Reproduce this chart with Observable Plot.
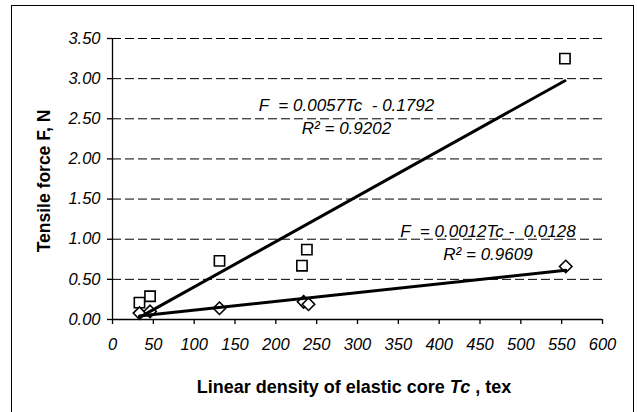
<!DOCTYPE html>
<html>
<head>
<meta charset="utf-8">
<script src="https://cdn.jsdelivr.net/npm/d3@7"></script>
<script src="https://cdn.jsdelivr.net/npm/@observablehq/plot@0.6"></script>
<style>
  html, body { margin: 0; padding: 0; background: #fff; overflow: hidden; }
  #wrap { position: relative; width: 637px; height: 412px; overflow: hidden; }
  #frame { position: absolute; left: 11px; top: 5px; width: 623px; height: 520px;
           border: 1.6px solid #000; box-sizing: border-box; pointer-events: none; }
  svg text { white-space: pre; }
</style>
</head>
<body>
<div id="wrap"><div id="frame"></div></div>
<script>
// Series 1 (squares)
const tcSquares = [33, 46, 131, 232, 238, 554];
const forceSquares = [0.21, 0.29, 0.73, 0.67, 0.87, 3.25];
// Series 2 (diamonds)
const tcDiamonds = [33, 46, 131, 234, 240, 555];
const forceDiamonds = [0.08, 0.10, 0.14, 0.22, 0.19, 0.66];
// Tick values
const xTicks = [0, 50, 100, 150, 200, 250, 300, 350, 400, 450, 500, 550, 600];
const yTicks = [0, 0.5, 1, 1.5, 2, 2.5, 3, 3.5];
// Trendline equation labels
const eqSquares = ["F  = 0.0057Tc  - 0.1792", "R² = 0.9202"];
const eqDiamonds = ["F  = 0.0012Tc -  0.0128", "R² = 0.9609"];
const yTitle = "Tensile force F, N";
const xTitleParts = ["Linear density of elastic core ", "Tc", " , tex"];

const squares = tcSquares.map((x, i) => ({x, y: forceSquares[i]}));
const diamonds = tcDiamonds.map((x, i) => ({x, y: forceDiamonds[i]}));

const FONT = "'Liberation Sans', Arial, sans-serif";
const eqStyle = {fontSize: 17, fontStyle: "italic", textAnchor: "middle", fill: "#000"};

const chart = Plot.plot({
  width: 637,
  height: 412,
  marginLeft: 112,
  marginRight: 35,
  marginTop: 38,
  marginBottom: 93,
  style: {fontFamily: FONT, background: "transparent", color: "#000"},
  x: {domain: [0, 600]},
  y: {domain: [0, 3.5]},
  marks: [
    Plot.gridY(yTicks.filter(d => d > 0), {stroke: "#000", strokeOpacity: 1, strokeWidth: 1, strokeDasharray: "9,4"}),
    Plot.ruleX([0], {stroke: "#000", strokeWidth: 1.3}),
    Plot.ruleY([0], {stroke: "#000", strokeWidth: 1.3}),
    Plot.axisY({ticks: yTicks, tickFormat: () => "", tickSize: 5, label: null, stroke: "#000", strokeWidth: 1.3}),
    Plot.axisX({ticks: xTicks, tickFormat: () => "", tickSize: 5, label: null, stroke: "#000", strokeWidth: 1.3}),
    Plot.text(yTicks, {y: d => d, frameAnchor: "left", dx: -12, textAnchor: "end", lineAnchor: "middle",
      text: d3.format(".2f"), fontSize: 16.5, fontStyle: "italic", fill: "#000"}),
    Plot.text(xTicks, {x: d => d, frameAnchor: "bottom", dy: 25, lineAnchor: "middle",
      text: d => String(d), fontSize: 16.5, fontStyle: "italic", fill: "#000"}),
    Plot.dot(squares, {x: "x", y: "y", symbol: "square", r: 5.8, stroke: "#000", strokeWidth: 1.6, fill: "#fff"}),
    Plot.dot(diamonds, {x: "x", y: "y", symbol: "diamond2", r: 5.6, stroke: "#000", strokeWidth: 1.6, fill: "#fff"}),
    Plot.linearRegressionY(squares, {x: "x", y: "y", ci: 0, stroke: "#000", strokeWidth: 3}),
    Plot.linearRegressionY(diamonds, {x: "x", y: "y", ci: 0, stroke: "#000", strokeWidth: 3}),
    Plot.text([eqSquares[0]], {x: 286.5, y: 2.66, text: d => d, ...eqStyle}),
    Plot.text([eqSquares[1]], {x: 286.5, y: 2.375, text: d => d, ...eqStyle}),
    Plot.text([eqDiamonds[0]], {x: 459.8, y: 1.10, text: d => d, ...eqStyle}),
    Plot.text([eqDiamonds[1]], {x: 459.8, y: 0.81, text: d => d, ...eqStyle})
  ]
});

const svg = d3.select(chart);
// y-axis title
svg.append("text")
  .attr("transform", "translate(50,181) rotate(-90)")
  .attr("text-anchor", "middle")
  .attr("font-family", FONT)
  .attr("font-size", 17.5)
  .attr("font-weight", "bold")
  .attr("fill", "#000")
  .text(yTitle);
// x-axis title
const xt = svg.append("text")
  .attr("x", 354).attr("y", 393)
  .attr("text-anchor", "middle")
  .attr("font-family", FONT)
  .attr("font-size", 18)
  .attr("font-weight", "bold")
  .attr("fill", "#000");
xt.append("tspan").text(xTitleParts[0]);
xt.append("tspan").attr("font-style", "italic").text(xTitleParts[1]);
xt.append("tspan").text(xTitleParts[2]);

const wrap = document.getElementById("wrap");
wrap.insertBefore(chart, wrap.firstChild);
chart.style.position = "absolute";
chart.style.left = "0";
chart.style.top = "0";
</script>
</body>
</html>
